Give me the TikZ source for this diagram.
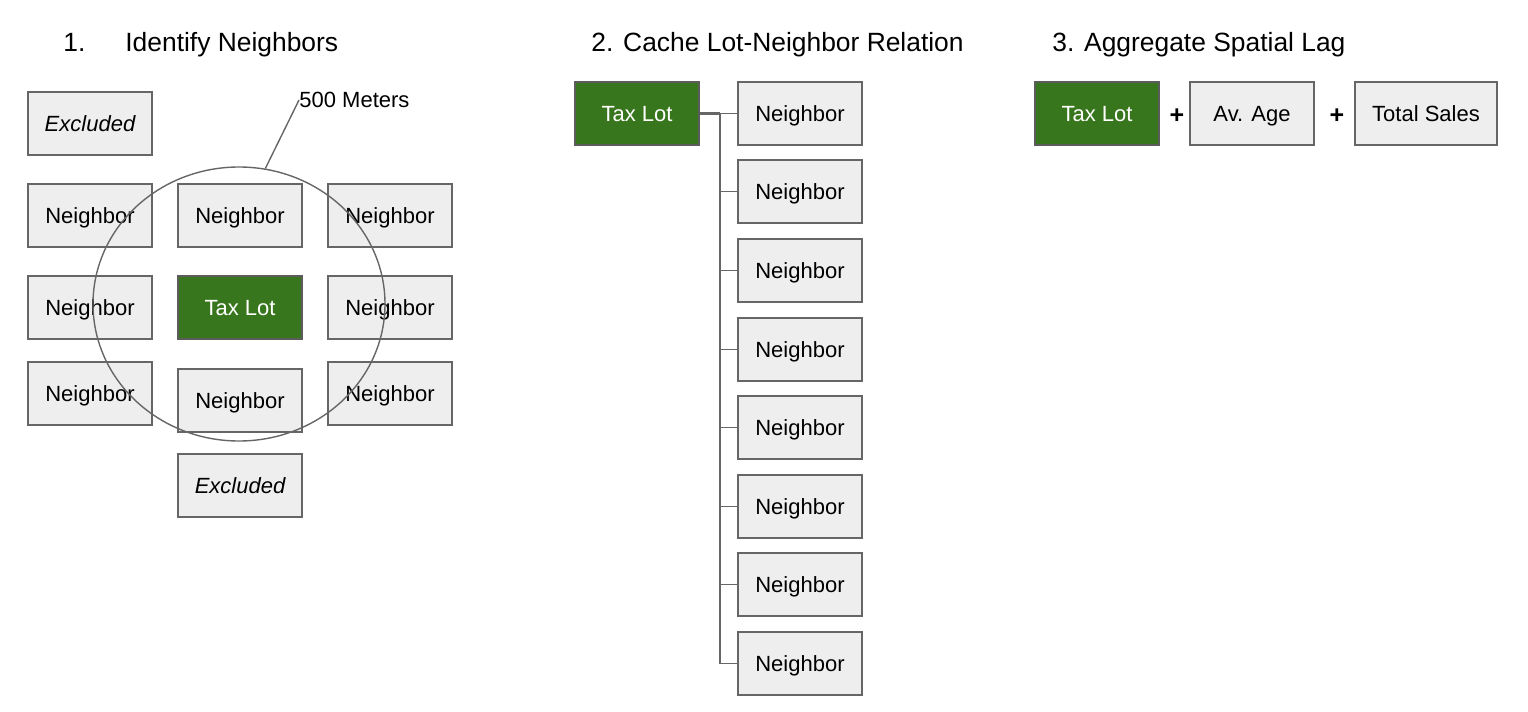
\documentclass[tikz,border=0pt]{standalone}
\usepackage{fontspec}
\setmainfont{Liberation Sans}
\usetikzlibrary{shapes.geometric}
\definecolor{lotgreen}{HTML}{38761D}
\definecolor{boxgray}{HTML}{EEEEEE}
\definecolor{linegray}{HTML}{666666}
\begin{document}
\begin{tikzpicture}[x=0.5pt, y=-0.5pt,
    B/.style={rectangle, draw=linegray, line width=0.8pt, fill=boxgray, minimum width=62pt, minimum height=31.5pt, inner sep=0pt, text height=8pt, text depth=0.5pt, font=\fontsize{11}{13}\selectfont},
    L/.style={B, draw=linegray!90!black, fill=lotgreen, text=white},
    X/.style={B, font=\fontsize{11}{13}\selectfont\itshape},
    T/.style={anchor=base west, inner sep=0pt, font=\fontsize{13.2}{15}\selectfont},
    conn/.style={draw=linegray, line width=0.7pt}]

    \useasboundingbox (0,0) rectangle (1528,712);

    % Titoli
    \node[T] (t1n) at (63,51) {1.};
    \node[T] (t1) at (125,51) {Identify Neighbors};
    \node[T] (t2) at (591,51) {2. Cache Lot-Neighbor Relation};
    \node[T] (t3) at (1052,51) {3. Aggregate Spatial Lag};

    % 1. Griglia dei lotti
    \node[X] (ex1) at (90,123.5) {Excluded};
    \node[X] (ex2) at (240,485.5) {Excluded};
    \node[L] (tl1) at (240,307.5) {Tax Lot};
    \foreach \n/\x/\y in {a/90/215.5, b/240/215.5, c/390/215.5,
                          d/90/307.5, e/390/307.5,
                          f/90/393.5, g/240/400.5, h/390/393.5} {
      \node[B] (g\n) at (\x,\y) {Neighbor};
    }

    % Raggio
    \node[ellipse, draw=linegray, line width=0.7pt, minimum width=146pt, minimum height=137pt, inner sep=0pt] (radius) at (239,304) {};
    \node[anchor=west, inner sep=0pt, font=\fontsize{11}{13}\selectfont] (meters) at (299,100) {500 Meters};
    \draw[conn] (radius.79) -- (meters.west);

    % 2. Relazione lotto-vicini
    \node[L] (tl2) at (637,113.5) {Tax Lot};
    \foreach \i/\y in {1/113.5, 2/191.5, 3/270.5, 4/349.5, 5/427.5, 6/506.5, 7/584.5, 8/663.5} {
      \node[B] (n\i) at (800,\y) {Neighbor};
    }
    \coordinate (bus) at (720,113.5);
    \draw[conn, line width=1.2pt] (tl2.east) -- (bus);
    \foreach \i in {1,...,8} {
      \draw[conn] (bus) |- (n\i.west);
    }

    % 3. Aggregazione
    \node[L] (tl3) at (1097,113.5) {Tax Lot};
    \node[B] (age) at (1252,113.5) {Av. Age};
    \node[B, minimum width=71pt] (sales) at (1426,113.5) {Total Sales};
    \node[font=\fontsize{12.5}{14}\bfseries] (p1) at (1177,116) {+};
    \node[font=\fontsize{12.5}{14}\bfseries] (p2) at (1337,116) {+};
  \end{tikzpicture}
\end{document}
